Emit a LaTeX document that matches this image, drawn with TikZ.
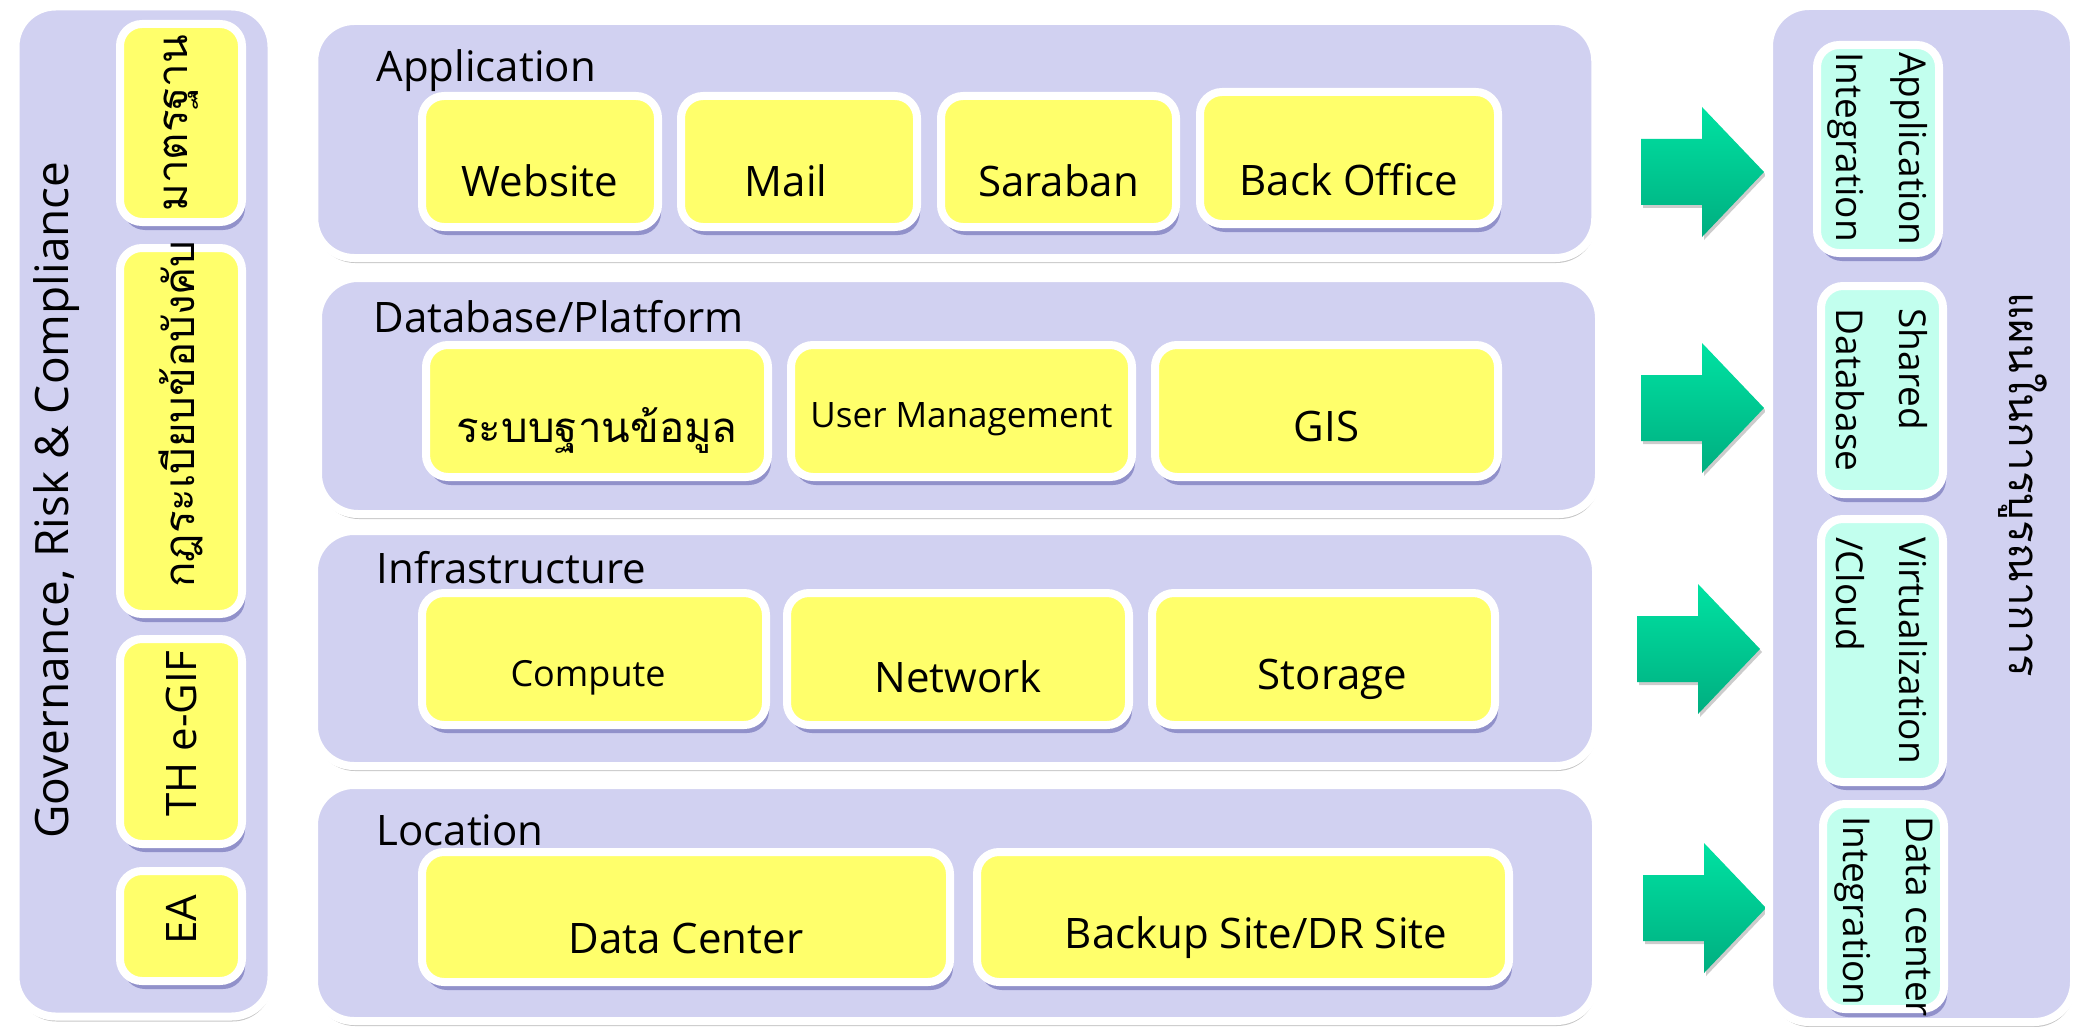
\documentclass[tikz,border=0pt]{standalone}
\usepackage{fontspec}
\setmainfont{Open Sans}
\newfontfamily\thaifont[Script=Thai]{Loma}
\usetikzlibrary{shadows}
\definecolor{lav}{HTML}{D1D1F1}
\definecolor{yel}{HTML}{FFFF6B}
\definecolor{mint}{HTML}{C2FFEE}
\definecolor{grtop}{HTML}{00E2A2}
\definecolor{grbot}{HTML}{00AE80}
\begin{document}
\begin{tikzpicture}[x=1pt, y=-1pt,
  panel/.style={draw=white, line width=8pt, fill=lav, rounded corners=40pt, inner sep=0pt,
    drop shadow={shadow xshift=1pt, shadow yshift=-5pt, fill=black, opacity=0.22}},
  item/.style={draw=white, line width=8pt, fill=yel, rounded corners=22pt, inner sep=0pt,
    drop shadow={shadow xshift=3pt, shadow yshift=-8pt, fill=black!55!blue, opacity=0.3}},
  side/.style={item, fill=mint},
  txt/.style={font=\fontsize{42}{50}\selectfont},
  small/.style={font=\fontsize{36}{44}\selectfont},
  thaitxt/.style={font=\thaifont\fontsize{42}{50}\selectfont},
  sidetxt/.style={font=\fontsize{37}{63}\selectfont, align=left},
  title/.style={txt, anchor=base west},
  blockarrow/.style={top color=grtop, bottom color=grbot,
    drop shadow={shadow xshift=2pt, shadow yshift=-3pt, fill=black, opacity=0.2}}]
  \fill[white] (0,0) rectangle (2087,1027);
  \useasboundingbox (0,0) rectangle (2087,1027);

  % governance column
  \node[panel, minimum width=256pt, minimum height=1010pt] (gov) at (143.5,511.5) {};
  \node[rotate=90, font=\fontsize{46}{52}\selectfont] (govt) at (57,500) {Governance, Risk \& Compliance};
  \node[item, minimum width=122pt, minimum height=198pt,
    label={[thaitxt, rotate=90]center:มาตรฐาน}] (std) at (181,123) {};
  \node[item, minimum width=122pt, minimum height=366pt,
    label={[thaitxt, yshift=17pt, rotate=90]center:กฎระเบียบข้อบังคับ}] (rules) at (181,431) {};
  \node[item, minimum width=122pt, minimum height=205pt,
    label={[txt, yshift=8pt, rotate=90]center:TH e-GIF}] (egif) at (181,741.5) {};
  \node[item, minimum width=122pt, minimum height=110pt,
    label={[txt, yshift=6pt, rotate=90]center:EA}] (ea) at (181,926) {};

  % layers
  \node[panel, minimum width=1281pt, minimum height=237pt] (app) at (954.75,139.5) {};
  \node[panel, minimum width=1281pt, minimum height=236pt] (db) at (958.5,396) {};
  \node[panel, minimum width=1282pt, minimum height=235pt] (infra) at (955,648.5) {};
  \node[panel, minimum width=1282pt, minimum height=236pt] (loc) at (955,903) {};
  \node[title] (appt) at (373,82) {Application};
  \node[title] (dbt) at (370,332) {Database/Platform};
  \node[title] (infrat) at (373,583) {Infrastructure};
  \node[title] (loct) at (373,845) {Location};

  \node[item, minimum width=236pt, minimum height=131pt,
    label={[txt, yshift=-19pt]center:Website}] (website) at (540,161.5) {};
  \node[item, minimum width=236pt, minimum height=131pt,
    label={[txt, xshift=-13pt, yshift=-19pt]center:Mail}] (mail) at (799,161.5) {};
  \node[item, minimum width=235pt, minimum height=131pt,
    label={[txt, yshift=-19pt]center:Saraban}] (saraban) at (1058.5,161.5) {};
  \node[item, minimum width=298pt, minimum height=132pt,
    label={[txt, yshift=-22pt]center:Back Office}] (backoffice) at (1349,158) {};

  \node[item, minimum width=342pt, minimum height=132pt,
    label={[thaitxt, yshift=-19pt]center:ระบบฐานข้อมูล}] (dbsys) at (597,411) {};
  \node[item, minimum width=341pt, minimum height=132pt,
    label={[font=\fontsize{35}{42}\selectfont, yshift=-8pt]center:User Management}] (usermgmt) at (961.5,411) {};
  \node[item, minimum width=343pt, minimum height=132pt,
    label={[txt, yshift=-15pt]center:GIS}] (gis) at (1326.5,411) {};

  \node[item, minimum width=344pt, minimum height=132pt,
    label={[small, xshift=-6pt, yshift=-19pt]center:Compute}] (compute) at (594,659) {};
  \node[item, minimum width=342pt, minimum height=132pt,
    label={[txt, yshift=-18pt]center:Network}] (network) at (958,659) {};
  \node[item, minimum width=343pt, minimum height=132pt,
    label={[txt, xshift=9pt, yshift=-20pt]center:Storage}] (storage) at (1323.5,659) {};

  \node[item, minimum width=528pt, minimum height=130pt,
    label={[txt, yshift=-21pt]center:Data Center}] (dc) at (686,917) {};
  \node[item, minimum width=532pt, minimum height=130pt,
    label={[txt, xshift=13pt, yshift=-21pt]center:Backup Site/DR Site}] (drsite) at (1243,917) {};

  % arrows
  \foreach \tx/\ty in {1764/172, 1764/408, 1760/649, 1766/908}
    \path[blockarrow] ({\tx-123},{\ty-33}) -- ({\tx-62},{\ty-33}) -- ({\tx-62},{\ty-65})
      -- (\tx,\ty) -- ({\tx-62},{\ty+65}) -- ({\tx-62},{\ty+33}) -- ({\tx-123},{\ty+33}) -- cycle;

  % integration column
  \node[panel, minimum width=305pt, minimum height=1016pt] (integ) at (1921.5,514) {};
  \node[thaitxt, rotate=-90] (plan) at (2023,485) {แผนในการบูรณาการ};
  \node[side, minimum width=122pt, minimum height=208pt,
    label={[sidetxt, rotate=-90]center:Application\\Integration}] (appint) at (1878,149) {};
  \node[side, minimum width=122pt, minimum height=208pt,
    label={[sidetxt, rotate=-90]center:Shared\\Database}] (shdb) at (1882,390) {};
  \node[side, minimum width=122pt, minimum height=263pt,
    label={[sidetxt, rotate=-90]center:Virtualization\\/Cloud}] (virt) at (1882,650.5) {};
  \node[side, minimum width=121pt, minimum height=205pt,
    label={[sidetxt, yshift=-10pt, rotate=-90]center:Data center\\Integration}] (dcint) at (1883.5,906.5) {};
\end{tikzpicture}
\end{document}
